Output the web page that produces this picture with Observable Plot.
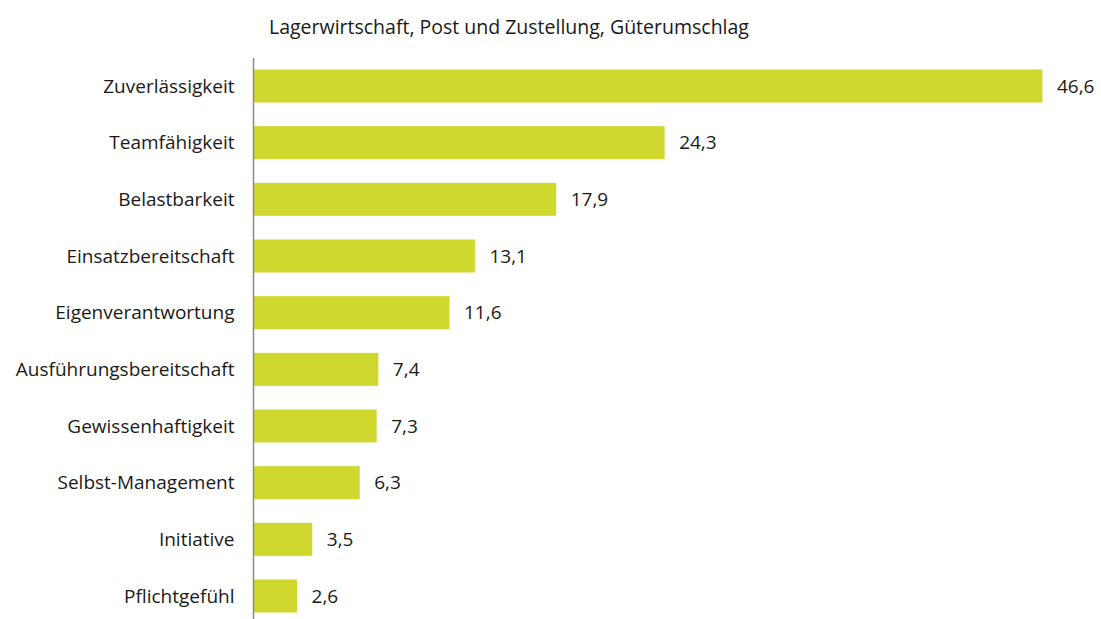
<!DOCTYPE html>
<html>
<head>
<meta charset="utf-8">
<script src="https://cdn.jsdelivr.net/npm/d3@7"></script>
<script src="https://cdn.jsdelivr.net/npm/@observablehq/plot@0.6"></script>
<style>
  html, body { margin: 0; padding: 0; overflow: hidden; background: #fff; }
  body { font-family: "Open Sans", sans-serif; color: #1a1a1a; }
  #title { height: 58px; box-sizing: border-box; padding-left: 269px; padding-top: 14px; font-size: 19.5px; line-height: 26px; white-space: nowrap; }
</style>
</head>
<body>
<div id="title">Lagerwirtschaft, Post und Zustellung, Güterumschlag</div>
<div id="chart"></div>
<script>
const categories = [
  "Zuverlässigkeit",
  "Teamfähigkeit",
  "Belastbarkeit",
  "Einsatzbereitschaft",
  "Eigenverantwortung",
  "Ausführungsbereitschaft",
  "Gewissenhaftigkeit",
  "Selbst-Management",
  "Initiative",
  "Pflichtgefühl"
];
const values = [46.6, 24.3, 17.9, 13.1, 11.6, 7.4, 7.3, 6.3, 3.5, 2.6];

const data = categories.map((c, i) => ({category: c, value: values[i]}));
const fmt = v => v.toFixed(1).replace(".", ",");

const chart = Plot.plot({
  width: 1101,
  height: 566,
  marginTop: 0,
  marginBottom: 0,
  marginLeft: 253,
  marginRight: 1,
  style: {fontFamily: "'Open Sans', sans-serif", fontSize: "19px", color: "#1a1a1a", background: "#fff"},
  x: {domain: [0, 50], axis: null},
  y: {domain: categories, paddingInner: 0.418, paddingOuter: 0.203, round: false, label: null, tickSize: 0, tickPadding: 19},
  marks: [
    Plot.barX(data, {x: "value", y: "category", fill: "#cfd82f", insetLeft: 1}),
    Plot.ruleX([0], {stroke: "#8a8a8a", strokeWidth: 1.5}),
    Plot.text(data, {x: "value", y: "category", text: d => fmt(d.value), dx: 14, textAnchor: "start", fill: "#1a1a1a", fontSize: 19}),
    Plot.axisY({tickSize: 0, tickPadding: 19, fontSize: 19, label: null})
  ]
});
document.getElementById("chart").appendChild(chart);
</script>
</body>
</html>
